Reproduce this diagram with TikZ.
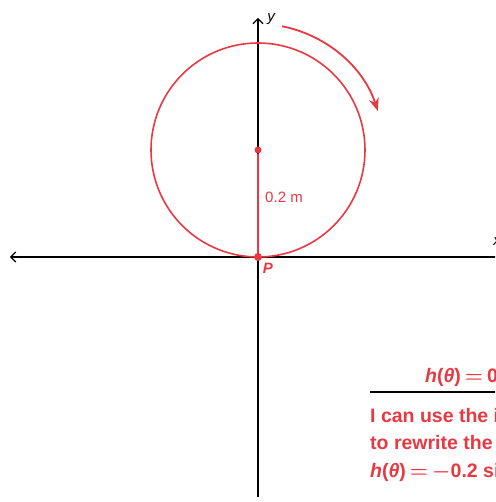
\documentclass[tikz,border=0pt]{standalone}
\usepackage{fontspec}
\setmainfont{Liberation Sans}
\usetikzlibrary{arrows.meta,positioning,calc}
\definecolor{wheelred}{RGB}{232,56,66}
\newcommand{\bfeq}{\hspace{4pt}{\boldmath$=$}\hspace{4pt}}
\newcommand{\bfminus}{{\boldmath$-$}}

\begin{document}
\begin{tikzpicture}[x=1pt,y=1pt]
    \useasboundingbox (-258,-245) rectangle (237,257);
    \clip (-258,-245) rectangle (237,257);

    % Axes
    \coordinate (xl) at (-248,0);
    \coordinate (xr) at (250,0);
    \coordinate (yb) at (0,-240);
    \coordinate (yt) at (0,239);
    \draw[line width=1.1pt, -{Straight Barb[length=5pt,width=10pt]}] (yb) -- (yt);
    \draw[line width=1.1pt, {Straight Barb[length=5pt,width=10pt]}-] (xl) -- (xr);
    \node[font=\itshape\fontsize{15}{15}\selectfont] (ylab) at (13,238) {y};
    \node[font=\itshape\fontsize{15}{15}\selectfont] (xlab) at (239,15) {x};

    % Circle
    \node[circle,fill=wheelred,inner sep=0pt,minimum size=7pt] (c) at (0,107) {};
    \draw[wheelred, line width=1.6pt] (c) circle (107);
    \node[circle,fill=wheelred,inner sep=0pt,minimum size=8pt] (p) at (0,0) {};
    \draw[wheelred, line width=2pt] (c) -- (p);

    % Rotation
    \draw[wheelred, line width=1.8pt, -{Stealth[length=13pt,width=10pt]}]
        ($(c)+(79:126)$) arc[start angle=79, end angle=18, radius=126];

    % Labels
    \node[wheelred, font=\fontsize{15}{15}\selectfont] (r) at (26,60) {0.2 m};
    \node[wheelred, font=\itshape\bfseries\fontsize{15}{15}\selectfont] (plab) at (10,-11) {P};

    % Working
    \node[wheelred, anchor=base west, inner sep=0pt, font=\bfseries\fontsize{19.5}{19.5}\selectfont] (eq) at (167,-125)
        {\textit{h}(\textit{θ})\bfeq 0.2 cos(\textit{θ} + 90°) + 0.2};
    \coordinate (rl) at (112,-135);
    \coordinate (rr) at (240,-135);
    \draw[line width=1.1pt] (rl) -- (rr);
    \node[wheelred, anchor=base west, inner sep=0pt, font=\bfseries\fontsize{19.5}{19.5}\selectfont] (t1) at (112,-165) {I can use the identity};
    \node[wheelred, anchor=base west, inner sep=0pt, font=\bfseries\fontsize{19.5}{19.5}\selectfont] (t2) at (112,-192.5) {to rewrite the function};
    \node[wheelred, anchor=base west, inner sep=0pt, font=\bfseries\fontsize{19.5}{19.5}\selectfont] (t3) at (112,-220)
        {\textit{h}(\textit{θ})\bfeq\bfminus0.2 sin \textit{θ} + 0.2};
\end{tikzpicture}
\end{document}
